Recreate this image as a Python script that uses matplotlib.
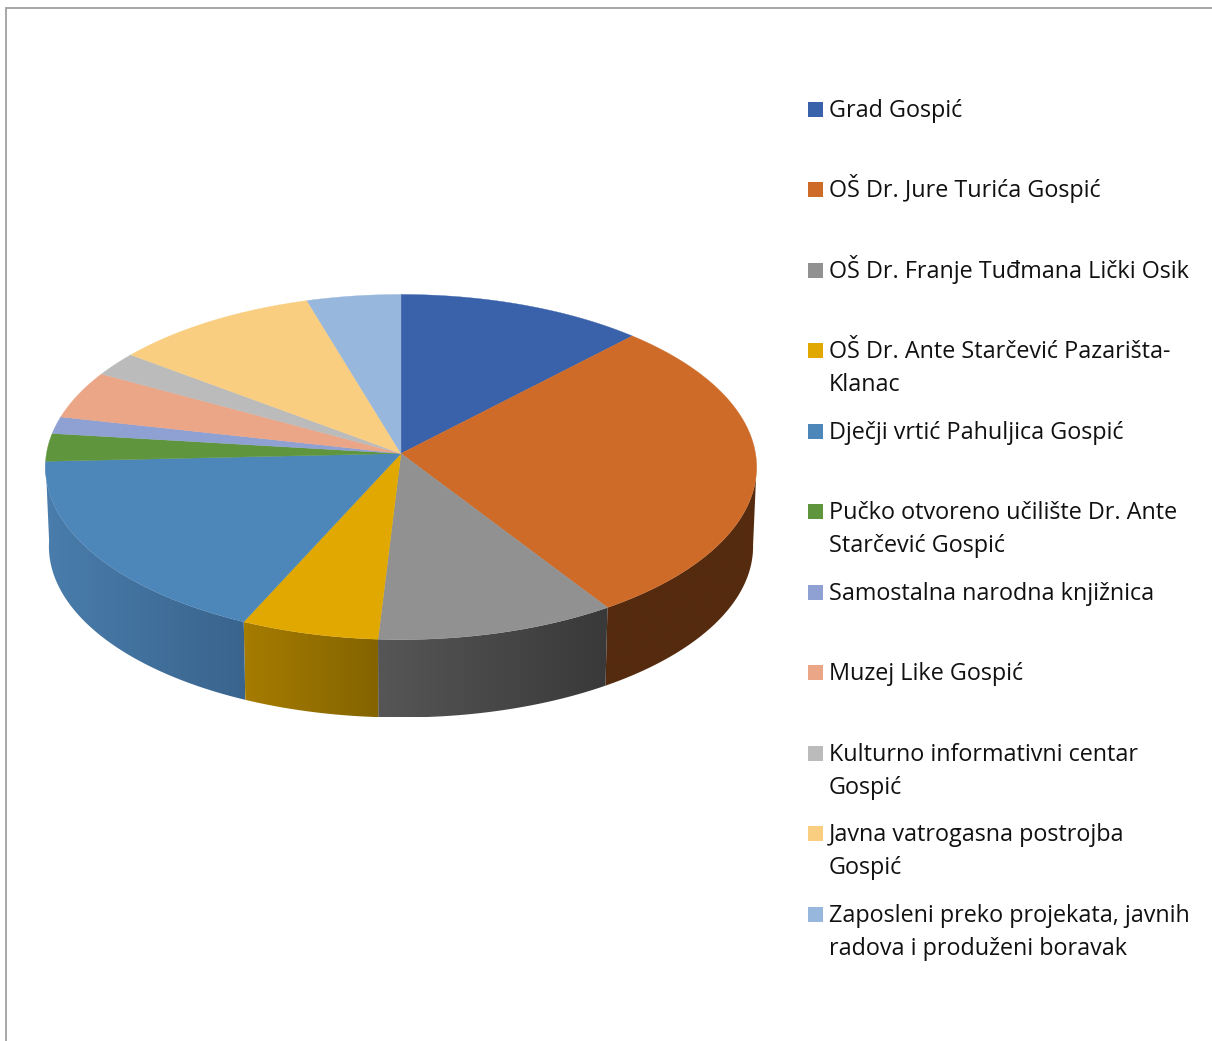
import numpy as np
import matplotlib
matplotlib.use("Agg")
import matplotlib.pyplot as plt
from matplotlib.patches import Polygon, Rectangle
from matplotlib.colors import LinearSegmentedColormap

# ---- data (share of employees, %) ----
labels = [
    "Grad Gospić",
    "OŠ Dr. Jure Turića Gospić",
    "OŠ Dr. Franje Tuđmana Lički Osik",
    "OŠ Dr. Ante Starčević Pazarišta-\nKlanac",
    "Dječji vrtić Pahuljica Gospić",
    "Pučko otvoreno učilište Dr. Ante\nStarčević Gospić",
    "Samostalna narodna knjižnica",
    "Muzej Like Gospić",
    "Kulturno informativni centar\nGospić",
    "Javna vatrogasna postrojba\nGospić",
    "Zaposleni preko projekata, javnih\nradova i produženi boravak",
]
values = [12.1, 28.7, 10.1, 5.8, 17.5, 2.6, 1.6, 4.5, 2.3, 10.1, 4.6]
colors = ["#3A62AA", "#CE6B28", "#919191", "#E0A800", "#4D87BA", "#5F963D",
          "#8FA0D2", "#EBA587", "#BBBBBB", "#F9CE80", "#97B7DD"]
# side wall shading, left to right, for the slices facing the viewer
wall_shades = {
    1: ("#552B0F", "#552B0F"),
    2: ("#565656", "#393939"),
    3: ("#A67C00", "#846400"),
    4: ("#4A7DAC", "#39648D"),
}
legend_y = [109.5, 189.5, 270.5, 350.5, 431.5, 511.5, 592.5, 672.5, 753.5, 833.5, 914.5]

# ---- layout / projection ----
W, H = 1212, 1041
CX = 401.0
TOP = dict(y0=453.5, A=354.5, B=171.5)
BOT = dict(y0=533.0, A=351.0, B=170.0)
K = 0.0784
VISIBLE = (94.0, 268.0)


def ring(theta_deg, p, r=1.0):
    t = np.radians(theta_deg)
    X, Y = r * np.sin(t), r * np.cos(t)
    d = 1 + K * Y
    return CX + p["A"] * X / d, p["y0"] - p["B"] * Y / d


fig = plt.figure(figsize=(W / 100, H / 100), dpi=100)
ax = fig.add_axes([0, 0, 1, 1])
ax.set_xlim(0, W)
ax.set_ylim(H, 0)
ax.axis("off")

# chart frame (only top and left are inside the crop)
ax.plot([W, 5.5, 5.5], [7.5, 7.5, H], color="#A0A0A0", lw=1.3, solid_joinstyle="miter")

edges = np.concatenate([[0], np.cumsum(values)]) / np.sum(values) * 360.0

# side walls
for i, (a, b) in enumerate(zip(edges[:-1], edges[1:])):
    lo, hi = max(a, VISIBLE[0]), min(b, VISIBLE[1])
    if lo >= hi or i not in wall_shades:
        continue
    th = np.linspace(lo, hi, 120)
    xt, yt = ring(th, TOP)
    xb, yb = ring(th, BOT)
    xs = np.concatenate([xt, xb[::-1]])
    ys = np.concatenate([yt, yb[::-1]])
    clip = Polygon(np.column_stack([xs, ys]), closed=True, transform=ax.transData,
                   fc="none", ec="none")
    ax.add_patch(clip)
    cmap = LinearSegmentedColormap.from_list("w", wall_shades[i])
    grad = np.linspace(0, 1, 256).reshape(1, -1)
    im = ax.imshow(grad, cmap=cmap, aspect="auto", interpolation="bilinear",
                   extent=[xs.min(), xs.max(), ys.max(), ys.min()], zorder=2)
    im.set_clip_path(clip)
ax.set_xlim(0, W)
ax.set_ylim(H, 0)

# top face
for a, b, c in zip(edges[:-1], edges[1:], colors):
    th = np.linspace(a, b, max(int(b - a) * 3, 12))
    x, y = ring(th, TOP)
    ax.fill(np.r_[CX, x], np.r_[TOP["y0"], y], color=c, lw=0.25, zorder=3)

# legend
for txt, y, c in zip(labels, legend_y, colors):
    ax.add_patch(Rectangle((808, y - 8), 15, 15, fc=c, ec="none", zorder=4))
    lines = txt.split("\n")
    for j, ln in enumerate(lines):
        ax.text(829, y + 7.5 + j * 32.6, ln, fontsize=16.8, family="Open Sans",
                color="#111111", va="baseline", ha="left", zorder=4)

fig.savefig("out.png", dpi=100, facecolor="white")
